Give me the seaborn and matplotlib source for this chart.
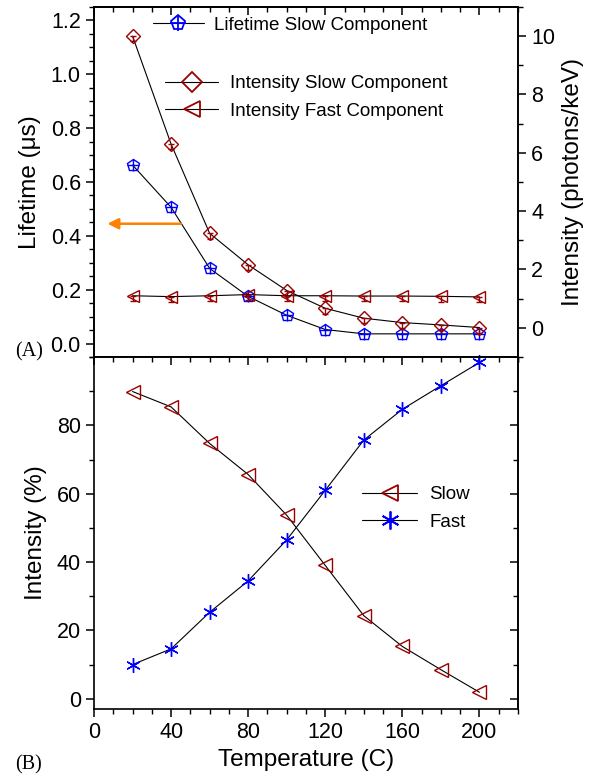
import numpy as np
import pandas as pd
import matplotlib
matplotlib.use("Agg")
import matplotlib.pyplot as plt
import seaborn as sns
from matplotlib.lines import Line2D
from matplotlib.ticker import MultipleLocator
from matplotlib.legend_handler import HandlerTuple

# ---------------- data ----------------
temperature = [20, 40, 60, 80, 100, 120, 140, 160, 180, 200]
lifetime_slow = [0.663, 0.506, 0.279, 0.175, 0.105, 0.052, 0.036, 0.036, 0.036, 0.036]
intensity_slow = [10.0, 6.30, 3.24, 2.16, 1.28, 0.67, 0.33, 0.18, 0.10, 0.01]
intensity_fast = [1.10, 1.07, 1.10, 1.14, 1.10, 1.10, 1.09, 1.09, 1.08, 1.06]
intensity_slow_err = [0.18] * 10
intensity_fast_err = [0.18] * 10
pct_slow = [89.9, 85.4, 74.7, 65.6, 53.7, 39.0, 24.3, 15.3, 8.5, 1.9]
pct_fast = [10.0, 14.6, 25.3, 34.5, 46.5, 61.0, 75.7, 84.7, 91.6, 98.4]

x_ticks = [0, 40, 80, 120, 160, 200]

# ---------------- style ----------------
sns.set_theme(style="ticks")
plt.rcParams["font.family"] = ["Liberation Sans", "DejaVu Sans"]
plt.rcParams.update({
    "axes.edgecolor": "black",
    "axes.linewidth": 1.2,
    "xtick.color": "black",
    "ytick.color": "black",
    "text.color": "black",
    "axes.labelcolor": "black",
    "xtick.major.size": 6,
    "ytick.major.size": 6,
    "xtick.minor.size": 3.5,
    "ytick.minor.size": 3.5,
    "xtick.major.width": 1.1,
    "ytick.major.width": 1.1,
    "xtick.minor.width": 1.0,
    "ytick.minor.width": 1.0,
})

RED = "#990000"
BLUE = "#0000FF"
TICK_FS = 15.5
LABEL_FS = 17.5
LEG_FS = 13.5

fig = plt.figure(figsize=(5.89, 7.77), dpi=100)
L, W = 94 / 589, 424 / 589
ax1 = fig.add_axes([L, 1 - 357 / 777, W, 350 / 777])
ax2 = ax1.twinx()
ax3 = fig.add_axes([L, 1 - 709 / 777, W, 352 / 777])

line_kw = dict(color="black", linewidth=0.8)

# ---------------- top panel ----------------
df_top = pd.DataFrame({"T": temperature, "life": lifetime_slow,
                       "islow": intensity_slow, "ifast": intensity_fast})

sns.lineplot(data=df_top, x="T", y="life", ax=ax1, marker="p", markersize=9,
             markerfacecolor="none", markeredgecolor=BLUE, markeredgewidth=1.0, **line_kw)
ax1.plot(df_top["T"], df_top["life"], linestyle="none", marker="+", markersize=9,
         color=BLUE, markeredgewidth=1.0)

sns.lineplot(data=df_top, x="T", y="islow", ax=ax2, marker="D", markersize=7.5,
             markerfacecolor="none", markeredgecolor=RED, markeredgewidth=1.0, **line_kw)
ax2.errorbar(df_top["T"], df_top["islow"], yerr=[intensity_slow_err, [0] * 10],
             fmt="none", ecolor=RED, elinewidth=1.0, capsize=2.5)
sns.lineplot(data=df_top, x="T", y="ifast", ax=ax2, marker="<", markersize=9,
             markerfacecolor="none", markeredgecolor=RED, markeredgewidth=1.0, **line_kw)
ax2.errorbar(df_top["T"], df_top["ifast"], yerr=[intensity_fast_err, [0] * 10],
             fmt="none", ecolor=RED, elinewidth=1.0, capsize=2.5)

ax1.set_xlim(0, 220)
ax1.set_ylim(-0.05, 1.25)
ax2.set_ylim(-1, 11)
ax1.set_xlabel("")
ax2.set_ylabel("")
ax1.xaxis.set_major_locator(MultipleLocator(40))
ax1.xaxis.set_minor_locator(MultipleLocator(10))
ax1.yaxis.set_major_locator(MultipleLocator(0.2))
ax1.yaxis.set_minor_locator(MultipleLocator(0.05))
ax2.yaxis.set_major_locator(MultipleLocator(2))
ax2.yaxis.set_minor_locator(MultipleLocator(1))
ax1.tick_params(axis="x", which="both", direction="out", labelbottom=False)
ax1.tick_params(axis="y", which="both", direction="out", labelsize=TICK_FS)
ax2.tick_params(axis="y", which="both", direction="out", labelsize=TICK_FS)
ax1.set_yticks([0.0, 0.2, 0.4, 0.6, 0.8, 1.0, 1.2])
ax1.set_yticklabels(["0.0", "0.2", "0.4", "0.6", "0.8", "1.0", "1.2"])
ax2.set_yticks([0, 2, 4, 6, 8, 10])
ax1.set_ylabel("Lifetime (\u03bcs)", fontsize=LABEL_FS, labelpad=7)
ax2.set_ylabel("Intensity (photons/keV)", fontsize=LABEL_FS, labelpad=5)

top_sec = ax1.secondary_xaxis("top")
top_sec.xaxis.set_major_locator(MultipleLocator(40))
top_sec.xaxis.set_minor_locator(MultipleLocator(10))
top_sec.tick_params(axis="x", which="both", direction="in", labeltop=False)

ax1.annotate("", xy=(7, 0.445), xytext=(45, 0.445),
             arrowprops=dict(arrowstyle="-|>", color="#FF8000", lw=1.8,
                             mutation_scale=16, shrinkA=0, shrinkB=0))

h_life = (Line2D([], [], color="black", lw=0.8, marker="p", markersize=11,
                 markerfacecolor="none", markeredgecolor=BLUE, markeredgewidth=1.3),
          Line2D([], [], linestyle="none", marker="+", markersize=11, color=BLUE,
                 markeredgewidth=1.3))
leg1 = ax2.legend([h_life], ["Lifetime Slow Component"],
                  handler_map={tuple: HandlerTuple(ndivide=1, pad=0)},
                  loc="center left", bbox_to_anchor=(153 / 589, 1 - 25 / 777),
                  bbox_transform=fig.transFigure, frameon=False, fontsize=LEG_FS,
                  handlelength=2.7, handletextpad=0.55, borderpad=0, borderaxespad=0)
ax2.add_artist(leg1)

h_islow = Line2D([], [], color="black", lw=0.8, marker="D", markersize=10,
                 markerfacecolor="none", markeredgecolor=RED, markeredgewidth=1.3)
h_ifast = Line2D([], [], color="black", lw=0.8, marker="<", markersize=11,
                 markerfacecolor="none", markeredgecolor=RED, markeredgewidth=1.3)
leg2 = ax2.legend([h_islow, h_ifast], ["Intensity Slow Component", "Intensity Fast Component"],
                  loc="center left", bbox_to_anchor=(165 / 589, 1 - 97.5 / 777),
                  bbox_transform=fig.transFigure, frameon=False, fontsize=LEG_FS,
                  handlelength=2.85, handletextpad=0.6, borderpad=0, borderaxespad=0,
                  labelspacing=0.55)

# ---------------- bottom panel ----------------
df_bot = pd.DataFrame({"T": temperature, "slow": pct_slow, "fast": pct_fast})
sns.lineplot(data=df_bot, x="T", y="slow", ax=ax3, marker="<", markersize=10,
             markerfacecolor="none", markeredgecolor=RED, markeredgewidth=1.0,
             clip_on=False, **line_kw)
sns.lineplot(data=df_bot, x="T", y="fast", ax=ax3, marker=(6, 2, 0), markersize=10.5,
             markerfacecolor=BLUE, markeredgecolor=BLUE, markeredgewidth=1.0,
             clip_on=False, **line_kw)

ax3.set_xlim(0, 220)
ax3.set_ylim(-3, 100)
ax3.xaxis.set_major_locator(MultipleLocator(40))
ax3.xaxis.set_minor_locator(MultipleLocator(10))
ax3.yaxis.set_major_locator(MultipleLocator(20))
ax3.yaxis.set_minor_locator(MultipleLocator(10))
ax3.set_xticks(x_ticks)
ax3.set_yticks([0, 20, 40, 60, 80])
ax3.tick_params(axis="both", which="both", direction="out", labelsize=TICK_FS)
ax3.set_xlabel("Temperature (C)", fontsize=LABEL_FS, labelpad=4)
ax3.set_ylabel("Intensity (%)", fontsize=LABEL_FS, labelpad=7)

b_top = ax3.secondary_xaxis("top")
b_top.xaxis.set_major_locator(MultipleLocator(40))
b_top.xaxis.set_minor_locator(MultipleLocator(10))
b_top.tick_params(axis="x", which="both", direction="in", labeltop=False)
b_right = ax3.secondary_yaxis("right")
b_right.yaxis.set_major_locator(MultipleLocator(20))
b_right.yaxis.set_minor_locator(MultipleLocator(10))
b_right.tick_params(axis="y", which="both", direction="in", labelright=False)

h_slow = Line2D([], [], color="black", lw=0.8, marker="<", markersize=12,
                markerfacecolor="none", markeredgecolor=RED, markeredgewidth=1.3)
h_fast = Line2D([], [], color="black", lw=0.8, marker=(6, 2, 0), markersize=13,
                markerfacecolor=BLUE, markeredgecolor=BLUE, markeredgewidth=1.3)
ax3.legend([h_slow, h_fast], ["Slow", "Fast"],
           loc="center left", bbox_to_anchor=(362 / 589, 1 - 508.5 / 777),
           bbox_transform=fig.transFigure, frameon=False, fontsize=LEG_FS,
           handlelength=2.95, handletextpad=0.65, borderpad=0, borderaxespad=0,
           labelspacing=0.55)

# ---------------- panel tags ----------------
fig.text(15 / 589, 1 - 352 / 777, "(A)", family=["Liberation Serif", "DejaVu Serif"],
         fontsize=14.5, va="center", ha="left")
fig.text(15 / 589, 1 - 765 / 777, "(B)", family=["Liberation Serif", "DejaVu Serif"],
         fontsize=14.5, va="center", ha="left")

fig.savefig("out.png", dpi=100)
